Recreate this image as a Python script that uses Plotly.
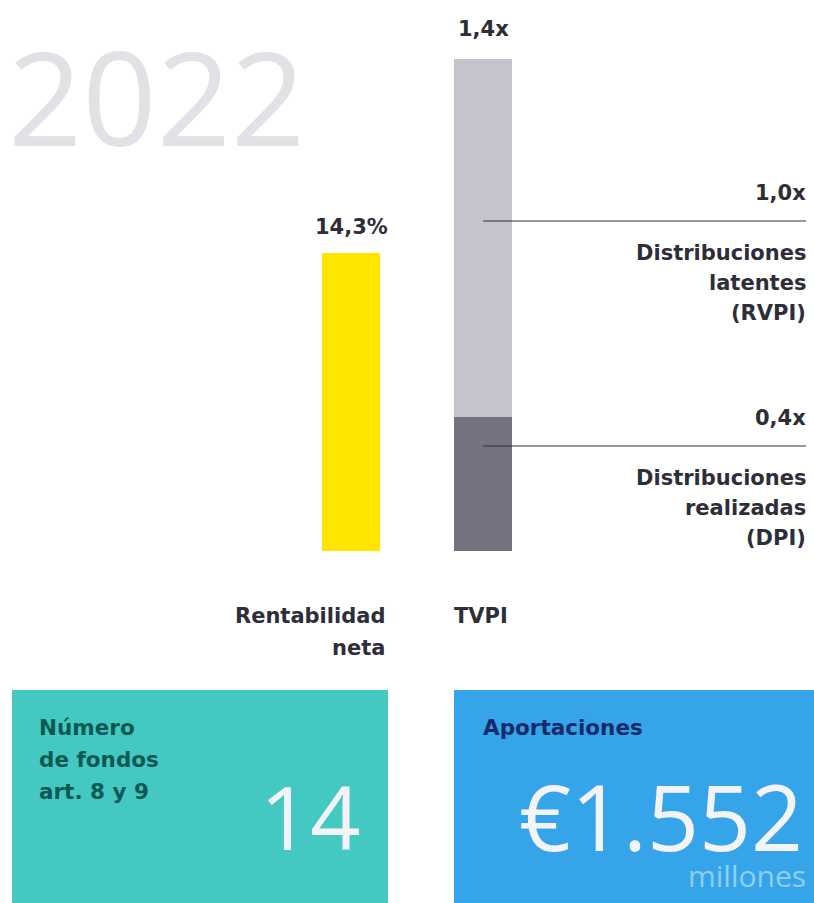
import plotly.graph_objects as go

W, H = 814, 903

categories = ["Rentabilidad neta", "TVPI"]
rentabilidad = [14.3]
dpi = [0.38]
rvpi = [1.02]
tvpi_total = 1.4
value_labels = ["14,3%", "1,4x"]
seg_labels = ["1,0x", "0,4x"]
seg_names = [["Distribuciones", "latentes", "(RVPI)"], ["Distribuciones", "realizadas", "(DPI)"]]
year = "2022"
n_fondos = "14"
aportaciones = "€1.552"

DARK = "#2e2e38"
FONT = "DejaVu Sans"
LIGHT = "Open Sans"

def px(x):
    return x / W

def py(y):
    return 1 - y / H

fig = go.Figure()
fig.add_trace(go.Bar(x=[categories[0]], y=rentabilidad, yaxis="y2", marker_color="#FFE600",
                     width=0.44, marker_line_width=0, hoverinfo="skip"))
fig.add_trace(go.Bar(x=[categories[1]], y=dpi, marker_color="#747480", width=0.44,
                     marker_line_width=0, hoverinfo="skip"))
fig.add_trace(go.Bar(x=[categories[1]], y=rvpi, marker_color="#C4C4CD", width=0.44,
                     marker_line_width=0, hoverinfo="skip"))

ydom = [py(551), py(59)]
fig.update_layout(
    width=W, height=H, margin=dict(l=0, r=0, t=0, b=0),
    paper_bgcolor="white", plot_bgcolor="white", showlegend=False, barmode="stack",
    xaxis=dict(type="category", categoryarray=categories, categoryorder="array",
               range=[-351 / 132, (W - 351) / 132], domain=[0, 1], visible=False, fixedrange=True),
    yaxis=dict(domain=ydom, range=[0, tvpi_total], visible=False, fixedrange=True),
    yaxis2=dict(overlaying="y", range=[0, 14.3 * 492 / 298], visible=False, fixedrange=True),
)

bold = dict(family=FONT, size=21, color=DARK, weight="bold")
ann = []

def line_text(text, x, y, anchor, font):
    ann.append(dict(text=text, x=px(x), y=py(y), xref="paper", yref="paper", xanchor=anchor,
                    yanchor="middle", showarrow=False, font=font))

# year
ann.append(dict(text=year, x=px(6), y=py(95), xref="paper", yref="paper", xanchor="left", yanchor="middle",
                showarrow=False, font=dict(family=LIGHT, size=130, color="#E1E1E6", weight=400)))
# value labels on bars
ann.append(dict(text=value_labels[0], x=categories[0], y=rentabilidad[0], xref="x", yref="y2",
                yanchor="bottom", yshift=12, showarrow=False, font=bold))
ann.append(dict(text=value_labels[1], x=categories[1], y=tvpi_total, xref="x", yref="y",
                yanchor="bottom", yshift=16, showarrow=False, font=bold))
# category labels
line_text("Rentabilidad", 387, 616, "right", bold)
line_text("neta", 387, 648, "right", bold)
line_text("TVPI", 452, 616, "left", bold)
# segment labels
for lab, names, ly, ty in [(seg_labels[0], seg_names[0], 193, 253), (seg_labels[1], seg_names[1], 418, 478)]:
    line_text(lab, 808, ly, "right", bold)
    for i, nm in enumerate(names):
        line_text(nm, 808, ty + 30 * i, "right", bold)

# boxes text
teal_font = dict(family=FONT, size=21.5, color="#0C5852", weight="bold")
for i, t in enumerate(["Número", "de fondos", "art. 8 y 9"]):
    line_text(t, 37, 727 + 32 * i, "left", teal_font)
line_text("Aportaciones", 481, 727, "left", dict(family=FONT, size=21.5, color="#15296B", weight="bold"))

ann.append(dict(text=n_fondos, x=px(363), y=py(816), xref="paper", yref="paper",
                xanchor="right", yanchor="middle", showarrow=False,
                font=dict(family=LIGHT, size=88, color="#F4F4F8", weight=400)))
ann.append(dict(text=aportaciones, x=px(805), y=py(816), xref="paper", yref="paper",
                xanchor="right", yanchor="middle", showarrow=False,
                font=dict(family=LIGHT, size=91, color="#F4F4F8", weight=400)))
ann.append(dict(text="millones", x=px(808), y=py(875), xref="paper", yref="paper",
                xanchor="right", yanchor="middle", showarrow=False,
                font=dict(family=LIGHT, size=30, color="#8DD0F4", weight=400)))

shapes = [
    dict(type="rect", xref="paper", yref="paper", x0=px(12), x1=px(388), y0=0, y1=py(690),
         fillcolor="#43C9C1", line_width=0, layer="below"),
    dict(type="rect", xref="paper", yref="paper", x0=px(454), x1=1, y0=0, y1=py(690),
         fillcolor="#36A4E8", line_width=0, layer="below"),
    dict(type="line", xref="paper", yref="paper", x0=px(483), x1=px(806), y0=py(221), y1=py(221),
         line=dict(color=DARK, width=1), layer="above"),
    dict(type="line", xref="paper", yref="paper", x0=px(483), x1=px(806), y0=py(446), y1=py(446),
         line=dict(color=DARK, width=1), layer="above"),
]
fig.update_layout(annotations=ann, shapes=shapes)
fig.write_html("out.html", config={"displayModeBar": False},
               post_script="document.body.style.margin='0px';document.body.style.overflow='hidden';")
